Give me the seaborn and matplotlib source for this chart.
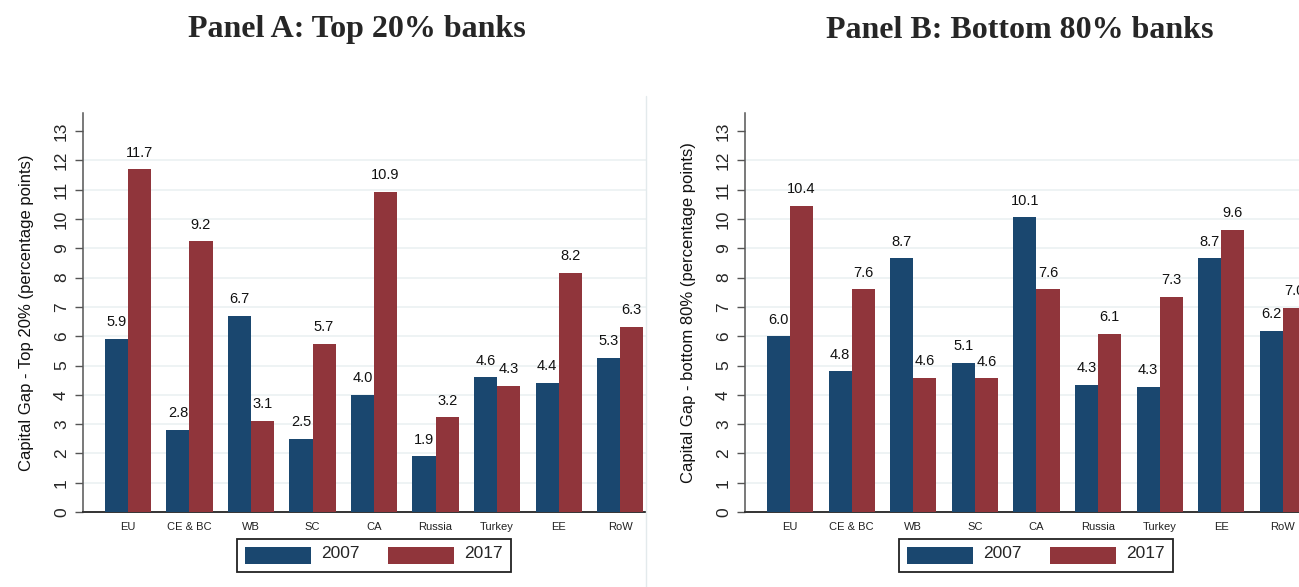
import matplotlib
matplotlib.use("Agg")
import matplotlib.pyplot as plt
from matplotlib.lines import Line2D
import seaborn as sns
import pandas as pd

regions = ["EU", "CE & BC", "WB", "SC", "CA", "Russia", "Turkey", "EE", "RoW"]
years = ["2007", "2017"]
top20_2007 = [5.9, 2.8, 6.7, 2.5, 4.0, 1.9, 4.6, 4.4, 5.27]
top20_2017 = [11.7, 9.24, 3.1, 5.74, 10.94, 3.23, 4.3, 8.16, 6.32]
bot80_2007 = [6.0, 4.8, 8.66, 5.1, 10.06, 4.34, 4.28, 8.66, 6.18]
bot80_2017 = [10.44, 7.6, 4.58, 4.56, 7.6, 6.08, 7.34, 9.62, 6.96]
titles = ["Panel A: Top 20% banks", "Panel B: Bottom 80% banks"]
ylabels = ["Capital Gap - Top 20% (percentage points)",
           "Capital Gap - bottom 80% (percentage points)"]

NAVY = "#1a476f"
MAROON = "#90353b"
GRID = "#edf2f3"

sns.set_style("white")
plt.rcParams["font.family"] = ["Liberation Sans", "DejaVu Sans"]

W, H = 1299, 587
fig = plt.figure(figsize=(W / 100, H / 100), dpi=100)

def make_df(v07, v17):
    rows = []
    for r, a, b in zip(regions, v07, v17):
        rows.append({"region": r, "year": years[0], "value": a})
        rows.append({"region": r, "year": years[1], "value": b})
    return pd.DataFrame(rows)

panels = [
    dict(data=make_df(top20_2007, top20_2017), left=83, right=646, xmax=8.42,
         title_x=357, leg_x=374),
    dict(data=make_df(bot80_2007, bot80_2017), left=745, right=1299, xmax=8.26,
         title_x=1020, leg_x=1036),
]

base_y = 512
top_y = 113
for i, p in enumerate(panels):
    ax = fig.add_axes([p["left"] / W, (H - base_y) / H,
                       (p["right"] - p["left"]) / W, (base_y - top_y) / H])
    sns.barplot(data=p["data"], x="region", y="value", hue="year",
                hue_order=years, order=regions, palette=[NAVY, MAROON],
                width=0.75, saturation=1, errorbar=None, ax=ax, zorder=3,
                linewidth=0, edgecolor="none")
    for c in ax.containers:
        ax.bar_label(c, fmt="%.1f", padding=7, fontsize=10.5, color="#111111")
    ax.set_xlim(-0.73, p["xmax"])
    ax.set_ylim(0, 13.62)
    ax.set_yticks(range(0, 14))
    ax.hlines(range(1, 13), -0.73, p["xmax"], colors=GRID, linewidth=1.3, zorder=1)
    ax.tick_params(axis="y", labelsize=12.5, length=6, width=1, color="#555555",
                   pad=4, labelrotation=90, left=True)
    for t in ax.get_yticklabels():
        t.set_va("center")
    ax.tick_params(axis="x", labelsize=8, length=0, pad=7, labelcolor="#222222")
    ax.set_xlabel("")
    ax.set_ylabel(ylabels[i], fontsize=12, color="#111111")
    ax.yaxis.set_label_coords((34 - 83) / (p["right"] - p["left"]), 0.5)
    for s in ["top", "right"]:
        ax.spines[s].set_visible(False)
    ax.spines["left"].set_color("#555555")
    ax.spines["left"].set_linewidth(1.1)
    ax.spines["bottom"].set_color("#333333")
    ax.spines["bottom"].set_linewidth(1.4)
    if ax.get_legend() is not None:
        ax.get_legend().remove()
    handles = ax.containers
    leg = ax.legend([h.patches[0] for h in handles], years, loc="center",
                    bbox_to_anchor=(p["leg_x"] / W, 1 - 555.5 / H),
                    bbox_transform=fig.transFigure, ncol=2, fontsize=12.5,
                    handlelength=3.8, handleheight=1.1, handletextpad=0.6,
                    columnspacing=1.6, borderpad=0.45, fancybox=False,
                    edgecolor="#222222", framealpha=1)
    leg.get_frame().set_linewidth(1.3)
    for t in leg.get_texts():
        t.set_va("bottom")
    fig.text(p["title_x"] / W, 1 - 30 / H, titles[i], ha="center", va="center",
             fontsize=23, fontweight="bold", family=["Liberation Serif", "DejaVu Serif"])

fig.add_artist(Line2D([646 / W, 646 / W], [0, 1 - 96 / H], transform=fig.transFigure,
                      color="#e3eaec", linewidth=1))

fig.savefig("out.png", dpi=100)
